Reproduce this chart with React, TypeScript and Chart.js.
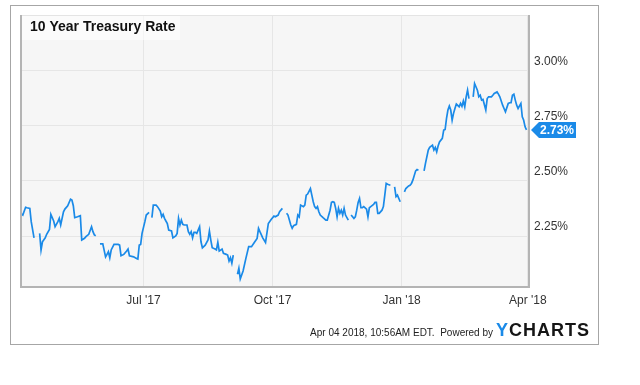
import React, { useEffect, useRef } from "react";
import { Chart, registerables } from "chart.js";

Chart.register(...registerables);

// Days since Apr 4 2017, and the 10-year rate (%) on that day; null = no data (line break)
const days: number[] = [
  0, 1, 2, 4, 5, 7, 8, 10, 12, 14, 15, 16, 18, 19, 21, 22, 24, 25, 27, 28, 29, 31, 32, 34, 36, 37, 38, 39, 41, 43,
  44, 46, 47, 49, 51, 52, 53, 54, 56, 57, 59, 61, 62, 63, 64, 65, 67, 70, 71, 72, 74, 76, 77, 78, 81, 83, 84, 85, 86, 87,
  89, 90, 92, 93, 94, 95, 97, 98, 100, 101, 102, 103, 104, 105, 106, 108, 109, 111, 112, 113, 114, 115, 116, 117, 119, 120, 121, 122, 123, 124,
  125, 126, 128, 129, 130, 132, 134, 135, 136, 137, 139, 140, 141, 142, 144, 145, 147, 148, 149, 150, 151, 152, 153, 155, 156, 157, 159, 161, 163, 165,
  167, 169, 170, 171, 173, 175, 177, 179, 181, 182, 184, 185, 187, 188, 190, 191, 193, 194, 195, 197, 198, 199, 200, 202, 203, 204, 205, 207, 208, 209,
  210, 211, 212, 213, 214, 216, 218, 219, 221, 222, 223, 224, 225, 226, 227, 228, 229, 230, 231, 232, 234, 235, 236, 238, 239, 240, 241, 242, 243, 244,
  245, 247, 248, 249, 250, 252, 253, 254, 255, 256, 258, 259, 260, 261, 262, 264, 265, 267, 268, 269, 271, 272, 274, 275, 277, 278, 279, 280, 282, 283,
  284, 286, 288, 289, 291, 292, 294, 295, 296, 297, 298, 299, 301, 302, 303, 304, 305, 306, 307, 308, 309, 310, 311, 313, 314, 315, 316, 317, 318, 319,
  320, 321, 323, 324, 326, 327, 328, 329, 330, 332, 333, 334, 336, 337, 338, 340, 341, 342, 344, 345, 346, 348, 349, 350, 351, 352, 353, 354, 355, 357,
  358, 359, 360, 361,
];

const rates: (number | null)[] = [
  2.36, 2.35, 2.345, 2.38, 2.378, 2.375, 2.315, 2.242, null, 2.262, 2.187, 2.224, 2.242, 2.258, 2.28, 2.348, 2.318, 2.292, 2.315, 2.33, 2.3, 2.36, 2.372, 2.387, 2.417, 2.413, 2.387, 2.333, 2.337, 2.342,
  2.232, 2.24, 2.247, 2.258, 2.292, 2.27, 2.255, 2.251, null, 2.215, 2.215, 2.156, 2.167, 2.179, 2.152, 2.187, 2.212, 2.212, 2.209, 2.161, 2.167, 2.182, 2.191, 2.161, 2.156, 2.149, 2.146, 2.209, 2.212, 2.262,
  2.315, 2.345, 2.357, null, 2.333, 2.39, 2.39, 2.383, 2.363, 2.337, 2.348, 2.33, 2.318, 2.307, 2.277, 2.273, 2.242, 2.251, 2.262, 2.33, 2.3, 2.322, 2.303, 2.3, 2.3, 2.27, 2.258, 2.27, 2.242, 2.267,
  2.267, 2.262, 2.292, 2.224, 2.197, 2.209, 2.232, 2.273, 2.232, 2.197, 2.191, 2.187, 2.222, 2.182, 2.191, 2.172, 2.167, 2.164, 2.137, 2.152, 2.127, 2.164, null, 2.077, 2.104, 2.056, 2.092, 2.149, 2.202, 2.202,
  2.221, 2.239, 2.285, 2.27, 2.242, 2.221, 2.307, 2.325, 2.34, 2.337, 2.345, 2.36, 2.375, null, 2.353, 2.345, 2.3, 2.285, 2.297, 2.303, 2.345, 2.337, 2.39, 2.383, 2.39, 2.435, 2.44, 2.465, 2.435, 2.405,
  2.383, 2.375, 2.383, 2.36, 2.345, 2.333, 2.322, 2.322, 2.367, 2.402, 2.405, 2.402, 2.375, 2.337, 2.375, 2.353, 2.367, 2.345, 2.375, 2.345, 2.322, null, 2.345, 2.33, 2.337, 2.367, 2.402, 2.42, 2.378, 2.378,
  2.383, 2.372, 2.337, 2.378, 2.383, 2.393, 2.402, 2.402, 2.353, 2.353, 2.367, 2.383, 2.435, 2.488, 2.484, 2.48, null, 2.473, 2.428, 2.435, 2.405, null, 2.45, 2.465, 2.477, 2.48, 2.488, 2.503, 2.545, 2.551,
  2.548, null, 2.545, 2.579, 2.639, 2.651, 2.661, 2.639, 2.651, 2.631, 2.657, 2.676, 2.692, 2.729, 2.732, 2.782, 2.82, 2.838, 2.82, 2.774, 2.805, 2.827, 2.847, 2.835, 2.85, 2.837, 2.861, 2.835, 2.88, 2.91,
  2.872, null, 2.88, 2.94, 2.91, 2.88, 2.887, 2.865, 2.868, 2.82, 2.872, 2.88, 2.88, 2.887, 2.895, 2.902, 2.892, 2.88, 2.842, 2.827, 2.812, 2.85, 2.853, 2.853, 2.887, 2.892, 2.865, 2.842, 2.827, 2.85,
  2.789, 2.774, 2.744, 2.73,
];

const xTickDays: number[] = [88, 180, 272, 362];
const xTickLabels: string[] = ["Jul '17", "Oct '17", "Jan '18", "Apr '18"];
const yTickValues: number[] = [2.25, 2.5, 2.75, 3.0];
const titleText = "10 Year Treasury Rate";
const footerText = "Apr 04 2018, 10:56AM EDT.  Powered by";
const brandY = "Y";
const brandRest = "CHARTS";

const FONT = '"Liberation Sans", Arial, Helvetica, sans-serif';
const BLUE = "#1a8ae8";

export default function App() {
  const ref = useRef<HTMLCanvasElement | null>(null);

  useEffect(() => {
    if (!ref.current) return;
    const points = days.map((d, i) => ({ x: d, y: rates[i] }));
    let lastVal = 0;
    for (let i = rates.length - 1; i >= 0; i--) {
      if (rates[i] != null) { lastVal = rates[i] as number; break; }
    }

    const decor = {
      id: "decor",
      beforeDraw(chart: any) {
        const { ctx, chartArea: a } = chart;
        ctx.save();
        ctx.fillStyle = "#ffffff";
        ctx.fillRect(0, 0, chart.width, chart.height);
        ctx.strokeStyle = "#a6a6a6";
        ctx.lineWidth = 1;
        ctx.strokeRect(10.5, 5.5, 588, 339);
        ctx.fillStyle = "#f6f6f6";
        ctx.fillRect(a.left, a.top, a.right - a.left, a.bottom - a.top);
        ctx.restore();
      },
      afterDraw(chart: any) {
        const { ctx, chartArea: a } = chart;
        const ys = chart.scales.y;
        ctx.save();
        // plot frame
        ctx.strokeStyle = "#e4e4e4";
        ctx.lineWidth = 1;
        ctx.beginPath();
        ctx.moveTo(a.left, a.top + 0.5);
        ctx.lineTo(a.right, a.top + 0.5);
        ctx.stroke();
        ctx.strokeStyle = "#b4b4b4";
        ctx.lineWidth = 2;
        ctx.beginPath();
        ctx.moveTo(a.left + 1, a.top);
        ctx.lineTo(a.left + 1, a.bottom - 1);
        ctx.lineTo(a.right - 1, a.bottom - 1);
        ctx.lineTo(a.right - 1, a.top);
        ctx.stroke();

        // title box
        ctx.fillStyle = "rgba(255,255,255,0.55)";
        ctx.fillRect(a.left + 2, a.top + 1, 158, 24);
        ctx.fillStyle = "#111";
        ctx.font = `bold 14px ${FONT}`;
        ctx.textBaseline = "middle";
        ctx.textAlign = "left";
        ctx.fillText(titleText, 30, 27);

        // last value tag
        const py = ys.getPixelForValue(lastVal);
        const tx = a.right + 1;
        ctx.fillStyle = BLUE;
        ctx.beginPath();
        ctx.moveTo(tx, py);
        ctx.lineTo(tx + 8, py - 8);
        ctx.lineTo(tx + 45, py - 8);
        ctx.lineTo(tx + 45, py + 8);
        ctx.lineTo(tx + 8, py + 8);
        ctx.closePath();
        ctx.fill();
        ctx.fillStyle = "#ffffff";
        ctx.font = `bold 12px ${FONT}`;
        ctx.textAlign = "left";
        ctx.fillText(lastVal.toFixed(2) + "%", tx + 9, py + 0.5);

        // footer
        ctx.fillStyle = "#222";
        ctx.font = `10px ${FONT}`;
        ctx.textAlign = "right";
        ctx.textBaseline = "alphabetic";
        ctx.fillText(footerText, 493, 336);
        ctx.font = `bold 18px ${FONT}`;
        (ctx as any).letterSpacing = "1px";
        ctx.textAlign = "left";
        ctx.fillStyle = BLUE;
        ctx.fillText(brandY, 496, 336);
        const w = ctx.measureText(brandY).width;
        ctx.fillStyle = "#151515";
        ctx.fillText(brandRest, 496 + w, 336);
        (ctx as any).letterSpacing = "0px";
        ctx.restore();
      },
    };

    const chart = new Chart(ref.current, {
      type: "line",
      data: {
        datasets: [
          {
            data: points as any,
            borderColor: BLUE,
            borderWidth: 1.7,
            pointRadius: 0,
            tension: 0,
            spanGaps: false,
            fill: false,
          },
        ],
      },
      options: {
        animation: false,
        responsive: false,
        events: [],
        layout: { padding: { left: 20, top: 15, right: 0, bottom: 0 } },
        plugins: { legend: { display: false }, tooltip: { enabled: false }, title: { display: false } },
        scales: {
          x: {
            type: "linear",
            min: 0,
            max: 363.5,
            border: { display: false },
            grid: { color: "#e6e6e6", lineWidth: 1, drawTicks: false },
            afterBuildTicks: (s: any) => {
              s.ticks = xTickDays.map((v) => ({ value: v }));
            },
            afterFit: (s: any) => {
              s.height = 97;
            },
            ticks: {
              padding: 5,
              color: "#333",
              font: { family: FONT, size: 12 },
              maxRotation: 0,
              autoSkip: false,
              callback: (v: any) => {
                const i = xTickDays.indexOf(Number(v));
                return i >= 0 ? xTickLabels[i] : "";
              },
            },
          },
          y: {
            type: "linear",
            position: "right",
            min: 2.015,
            max: 3.25,
            border: { display: false },
            grid: { color: "#e6e6e6", lineWidth: 1, drawTicks: false },
            afterBuildTicks: (s: any) => {
              s.ticks = yTickValues.map((v) => ({ value: v }));
            },
            afterFit: (s: any) => {
              s.width = 110;
            },
            ticks: {
              padding: 4,
              labelOffset: -9,
              color: "#333",
              font: { family: FONT, size: 12 },
              callback: (v: any) => Number(v).toFixed(2) + "%",
            },
          },
        },
      },
      plugins: [decor],
    } as any);
    return () => chart.destroy();
  }, []);

  return (
    <div style={{ position: "fixed", left: 0, top: 0, width: 640, height: 385, background: "#fff" }}>
      <canvas ref={ref} width={640} height={385} style={{ display: "block" }} />
    </div>
  );
}
